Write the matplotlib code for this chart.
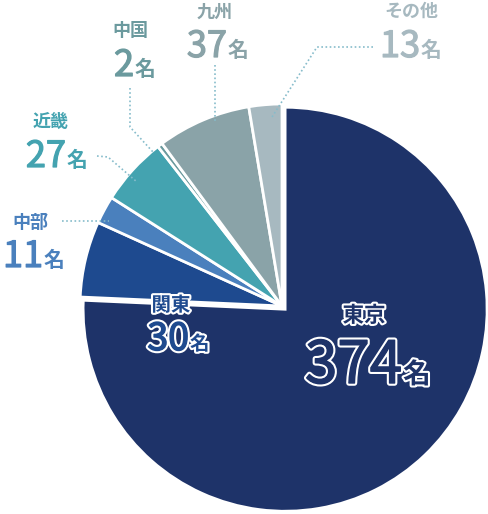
import matplotlib.pyplot as plt
import matplotlib.patheffects as pe

plt.rcParams['font.family'] = ['Noto Sans CJK JP', 'DejaVu Sans']

# data
regions = ['東京', '関東', '中部', '近畿', '中国', '九州', 'その他']
counts = [374, 30, 11, 27, 2, 37, 13]
colors = ['#1e3369', '#1e4a8f', '#4a80bd', '#44a3b0', '#6b9a9e', '#8aa3a8', '#a7b9c0']

W, H = 488, 514


def Y(y):
    # pixel row -> data y
    return H - y


fig = plt.figure(figsize=(W / 100, H / 100), dpi=100)
ax = fig.add_axes([0, 0, 1, 1])

explode = [4.5, 0, 0, 0, 0, 0, 0]
ax.pie(counts, colors=colors, startangle=90, counterclock=False,
       center=(282, Y(306)), radius=202, explode=explode,
       wedgeprops=dict(edgecolor='white', linewidth=2))

ax.set_xlim(0, W)
ax.set_ylim(0, H)
ax.set_aspect('equal')
ax.axis('off')

dot_color = '#86bccb'


def leader(pts):
    xs = [p[0] for p in pts]
    ys = [Y(p[1]) for p in pts]
    ax.plot(xs, ys, color=dot_color, lw=1.2, ls=(0, (1, 1.5)),
            solid_capstyle='round')


# leader lines (outside labels)
leader([(130, 88), (130, 127), (153, 152)])          # 中国
leader([(215, 65), (215, 123)])                      # 九州
leader([(373, 47), (317, 47), (272, 117)])           # その他
leader([(97, 156), (108, 157), (137, 182)])          # 近畿
leader([(62, 221), (109, 221)])                      # 中部


def label(name, value, cx, name_base, split_x, num_base, color,
          name_size=13, num_size=26, unit_size=15, outline=None):
    name_fx, num_fx = None, [pe.Stroke(linewidth=0.9, foreground=color), pe.Normal()]
    if outline is not None:
        name_fx = [pe.Stroke(linewidth=outline, foreground='white'), pe.Normal()]
        num_fx = [pe.Stroke(linewidth=outline + 1, foreground='white'),
                  pe.Stroke(linewidth=1, foreground=color), pe.Normal()]
    ax.text(cx, Y(name_base), name, ha='center', va='baseline',
            fontsize=name_size, color=color, fontweight='bold',
            path_effects=name_fx)
    ax.text(split_x, Y(num_base), str(value), ha='right', va='baseline',
            fontsize=num_size, color=color, fontweight='normal',
            path_effects=num_fx)
    ax.text(split_x + 1, Y(num_base), '名', ha='left', va='baseline',
            fontsize=unit_size, color=color, fontweight='bold',
            path_effects=name_fx)


label(regions[5], counts[5], 215, 18, 227, 57, colors[5])
label(regions[6], counts[6], 411, 17, 420, 57, colors[6])
label(regions[4], counts[4], 130, 36, 134, 76, colors[4])
label(regions[3], counts[3], 51, 127, 66, 167, colors[3])
label(regions[2], counts[2], 30, 228, 43, 267, colors[2])
label(regions[1], counts[1], 171, 311, 189, 350, colors[1],
      name_size=14, num_size=27, unit_size=14, outline=3)
label(regions[0], counts[0], 364, 322, 402, 383, colors[0],
      name_size=15.5, num_size=42, unit_size=20, outline=3)

fig.savefig('out.png', dpi=100)
